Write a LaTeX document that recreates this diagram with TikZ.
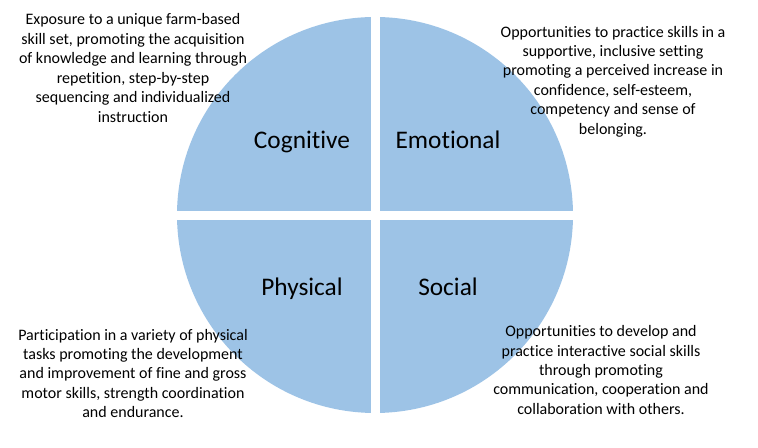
\documentclass[tikz,border=0pt]{standalone}
\usepackage{fontspec}
\setmainfont{Carlito}[Ligatures=NoCommon]
\definecolor{quadblue}{HTML}{9DC3E6}
\tikzset{
  note/.style  = {align=center, font=\fontsize{12}{14.6}\selectfont, inner sep=0pt},
  label/.style = {font=\fontsize{19}{22}\selectfont, inner sep=0pt, anchor=base},
  gap/.style   = {fill=white, draw=none},
}
\begin{document}
\begin{tikzpicture}[x=0.75pt, y=-0.75pt]
      \useasboundingbox (0,0) rectangle (758,448);

      % circle split into four quadrants
      \fill[quadblue] (375,215) circle[radius=198];
      \fill[gap] (371,10) rectangle (380,420);
      \fill[gap] (170,211) rectangle (580,220);

      \node[label] (cognitive) at (302,149) {Cognitive};
      \node[label] (emotional) at (448,149) {Emotional};
      \node[label] (physical)  at (302,296) {Physical};
      \node[label] (social)    at (448,296) {Social};

      \node[note] (cognote) at (133,68) {Exposure to a unique farm-based\\skill set, promoting the acquisition\\of knowledge and learning through\\repetition, step-by-step\\sequencing and individualized\\instruction};
      \node[note] (emonote) at (613,81.5) {Opportunities to practice skills in a\\supportive, inclusive setting\\promoting a perceived increase in\\confidence, self-esteem,\\competency and sense of\\belonging.};
      \node[note] (phynote) at (133,373.5) {Participation in a variety of physical\\tasks promoting the development\\and improvement of fine and gross\\motor skills, strength coordination\\and endurance.};
      \node[note] (socnote) at (601,370) {Opportunities to develop and\\practice interactive social skills\\through promoting\\communication, cooperation and\\collaboration with others.};
    \end{tikzpicture}
\end{document}
